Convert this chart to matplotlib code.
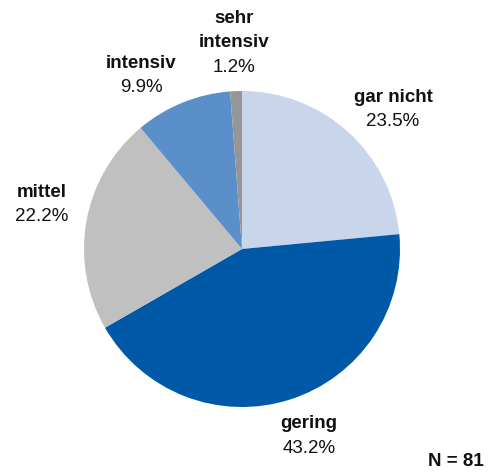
import matplotlib
matplotlib.use("Agg")
import matplotlib.pyplot as plt

categories = ["gar nicht", "gering", "mittel", "intensiv", "sehr\nintensiv"]
values = [23.5, 43.2, 22.2, 9.9, 1.2]
pct_labels = ["23.5%", "43.2%", "22.2%", "9.9%", "1.2%"]
colors = ["#c8d5ea", "#0059a6", "#c0c0c0", "#5a8fc9", "#969696"]
n_label = "N = 81"

# label anchor positions in pixel space (x, y of category line, from top)
label_pos = [(393, 97), (309, 424), (42, 192), (141, 63), (234, 18)]

W, H = 490, 474
fig = plt.figure(figsize=(W / 100, H / 100), dpi=100)
ax = fig.add_axes([0, 0, 1, 1])

cx, cy, r = 242, H - 249, 158
ax.pie(values, colors=colors, startangle=90, counterclock=False,
       center=(cx, cy), radius=r, frame=True,
       wedgeprops=dict(linewidth=0))
ax.set_xlim(0, W)
ax.set_ylim(0, H)
ax.set_aspect("equal")
ax.axis("off")

font = "Liberation Sans"
fs = 13.5
lh = 24.5
for cat, pct, (px, py) in zip(categories, pct_labels, label_pos):
    lines = cat.split("\n")
    for i, ln in enumerate(lines):
        ax.text(px, H - (py + i * lh), ln, ha="center", va="center",
                fontsize=fs, fontweight="bold", family=font, color="#111111")
    ax.text(px, H - (py + len(lines) * lh), pct, ha="center", va="center",
            fontsize=fs, family=font, color="#111111")

ax.text(456, H - 462, n_label, ha="center", va="center", fontsize=fs,
        fontweight="bold", family=font, color="#111111")

fig.savefig("out.png", dpi=100)
